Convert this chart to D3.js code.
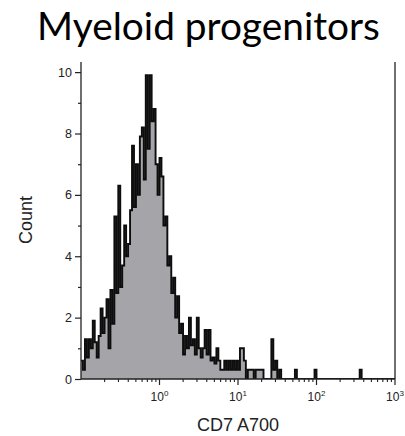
<!DOCTYPE html>
<html>
<head>
<meta charset="utf-8">
<script src="https://cdn.jsdelivr.net/npm/d3@7"></script>
<style>
  html, body { margin: 0; padding: 0; background: #fff; }
  svg { display: block; }
</style>
</head>
<body>
<svg id="chart" width="405" height="436"></svg>
<script>
// ---------- data ----------
const title = "Myeloid progenitors";
const xLabel = "CD7 A700";
const yLabel = "Count";
// histogram bins: log10 start and width of each bin (channels)
const binStartLog = -1;
const binWidthLog = 0.025;
// counts per bin
const counts = [
  0.6,0.3,1.3,0.7,1.3,1.0,1.9,1.2,0.7,1.4,
  2.3,1.5,2.0,2.6,1.0,2.9,1.8,5.3,2.8,6.3,
  3.0,3.7,5.0,4.0,4.4,5.5,7.6,5.6,7.0,6.0,
  7.9,8.2,6.5,9.9,7.5,9.9,8.4,8.8,7.0,6.0,
  7.2,6.6,5.0,5.3,3.7,4.0,2.8,3.3,2.0,2.7,
  1.5,1.8,0.8,1.4,1.0,2.0,1.1,1.3,0.8,2.0,
  1.0,0.7,1.0,1.6,0.8,1.6,0.6,0.7,0.5,1.0,
  0.6,0.3,0.3,0.6,0.3,0.6,0.3,0.6,0.3,0.6,
  0.3,1.0,1.0,0.6,0,0.3,0.3,0.3,0,0.3,
  0.3,0.3,0.3,0,0,0,0,1.3,0.3,0.6,
  0,0.3,0,0,0,0,0,0,0,0.3,
  0,0,0,0,0,0,0,0,0,0.3,
  0,0,0,0,0,0,0,0,0,0,
  0,0,0,0,0,0,0,0,0,0,
  0,0,0.3,0,0,0,0,0,0,0,
  0,0,0,0,0,0,0,0,0,0
];
const xDomain = [0.1, 1000];
const yDomain = [0, 10.33];
const xMajorTicks = [1, 10, 100, 1000];
const xTickExp = ["0", "1", "2", "3"];
const yTicks = [0, 1, 2, 3, 4, 5, 6, 7, 8, 9, 10];
const yTickLabels = ["0", "", "2", "", "4", "", "6", "", "8", "", "10"];

// ---------- layout ----------
const L = 81, R = 395, T = 62, B = 379;
const svg = d3.select("#chart");
const x = d3.scaleLog().domain(xDomain).range([L, R]);
const y = d3.scaleLinear().domain(yDomain).range([B, T]);

// step points
const pts = counts.map((c, i) => [Math.pow(10, binStartLog + i * binWidthLog), c]);
pts.push([Math.pow(10, binStartLog + counts.length * binWidthLog), counts[counts.length - 1]]);

const area = d3.area().curve(d3.curveStepAfter)
  .x(d => x(d[0])).y0(y(0)).y1(d => y(d[1]));
const line = d3.line().curve(d3.curveStepAfter)
  .x(d => x(d[0])).y(d => y(d[1]));

svg.append("clipPath").attr("id", "plotclip")
  .append("rect").attr("x", L).attr("y", T - 2).attr("width", R - L).attr("height", B - T + 2);

const g = svg.append("g").attr("clip-path", "url(#plotclip)");
g.append("path").datum(pts).attr("d", area).attr("fill", "#a5a5a9");
g.append("path").datum(pts).attr("d", line)
  .attr("fill", "none").attr("stroke", "#0d0d0d").attr("stroke-width", 1.9)
  .attr("stroke-linejoin", "miter");

// ---------- axes ----------
const axisColor = "#222";
// y axis
const yAxis = d3.axisLeft(y).tickValues(yTicks)
  .tickSize(6).tickSizeOuter(0)
  .tickFormat((d, i) => yTickLabels[i]);
const yg = svg.append("g").attr("transform", `translate(${L},0)`).call(yAxis);
yg.select(".domain").attr("stroke", axisColor).attr("stroke-width", 1.3)
  .attr("d", `M0,${T}V${B}`);
yg.selectAll(".tick line").attr("stroke", axisColor).attr("stroke-width", 1.2)
  .attr("x2", (d, i) => yTickLabels[i] === "" ? -3 : -6);
yg.selectAll(".tick text").attr("x", -9)
  .style("font-family", "'Liberation Sans', Arial, sans-serif").style("font-size", "12.5px").attr("fill", "#222");

// x axis minor ticks
const xMinor = [];
for (let e = -1; e < 3; e++) for (let m = 2; m <= 9; m++) xMinor.push(m * Math.pow(10, e));
const xg = svg.append("g").attr("transform", `translate(0,${B})`);
xg.append("path").attr("d", `M${L},0H${R}`).attr("stroke", axisColor).attr("stroke-width", 1.3).attr("fill", "none");
xg.selectAll("line.minor").data(xMinor).join("line").attr("class", "minor")
  .attr("x1", d => x(d)).attr("x2", d => x(d)).attr("y1", 0).attr("y2", 3)
  .attr("stroke", axisColor).attr("stroke-width", 1.1);
xg.selectAll("line.major").data(xMajorTicks).join("line").attr("class", "major")
  .attr("x1", d => x(d)).attr("x2", d => x(d)).attr("y1", 0).attr("y2", 6)
  .attr("stroke", axisColor).attr("stroke-width", 1.2);
const xt = xg.selectAll("text.lbl").data(xMajorTicks).join("text").attr("class", "lbl")
  .attr("x", d => x(d)).attr("y", 22).attr("text-anchor", "middle")
  .style("font-family", "'Liberation Sans', Arial, sans-serif").style("font-size", "12px").attr("fill", "#222");
xt.append("tspan").text("10");
xt.append("tspan").attr("dy", -5).style("font-size", "8px").text((d, i) => xTickExp[i]);

// right frame line
svg.append("path").attr("d", `M${R},${T}V${B}`).attr("stroke", axisColor).attr("stroke-width", 1.3);

// ---------- titles ----------
const tt = svg.append("text").attr("x", 208.5).attr("y", 40).attr("text-anchor", "middle")
  .style("font-family", "Lato, 'Open Sans', sans-serif").style("font-size", "37px").attr("fill", "#000")
  .text(title);
const w = tt.node().getComputedTextLength();
tt.style("font-size", (37 * 343 / w).toFixed(2) + "px");

svg.append("text").attr("x", (L + R) / 2).attr("y", 431).attr("text-anchor", "middle")
  .style("font-family", "'Liberation Sans', Arial, sans-serif").style("font-size", "18px").attr("fill", "#222")
  .text(xLabel);

svg.append("text").attr("transform", `translate(32,220) rotate(-90)`).attr("text-anchor", "middle")
  .style("font-family", "'Liberation Sans', Arial, sans-serif").style("font-size", "18px").attr("fill", "#222")
  .text(yLabel);
</script>
</body>
</html>
